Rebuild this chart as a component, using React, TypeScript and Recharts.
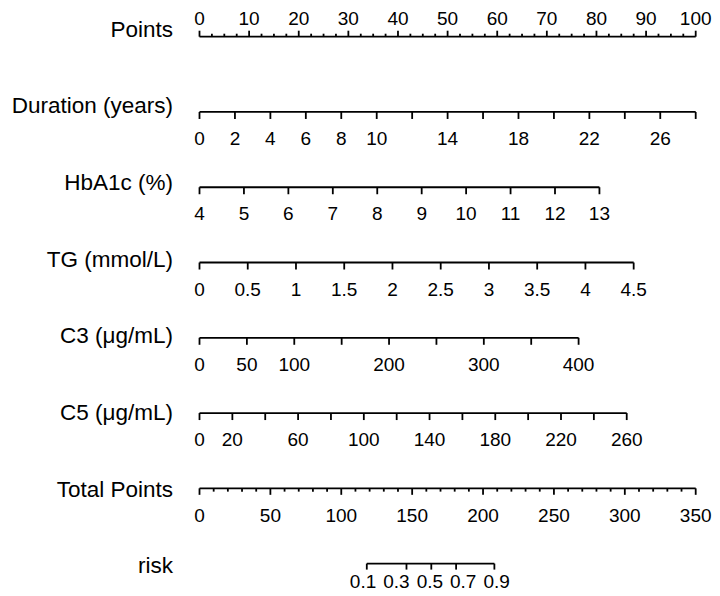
import { ScatterChart, Scatter, XAxis, YAxis } from "recharts";

// nomogram rows, top to bottom
const rowTitles = [
  "Points",
  "Duration (years)",
  "HbA1c (%)",
  "TG (mmol/L)",
  "C3 (μg/mL)",
  "C5 (μg/mL)",
  "Total Points",
  "risk",
];

// Points scale (0-100)
const pointsLabels = [0, 10, 20, 30, 40, 50, 60, 70, 80, 90, 100];
const pointsMinorStep = 2.5;

// predictors: ticks, labelled ticks, range and points at the max value
const durationTicks = [0, 2, 4, 6, 8, 10, 12, 14, 16, 18, 20, 22, 24, 26, 28];
const durationLabels = [0, 2, 4, 6, 8, 10, 14, 18, 22, 26];
const hba1cTicks = [4, 5, 6, 7, 8, 9, 10, 11, 12, 13];
const hba1cLabels = [4, 5, 6, 7, 8, 9, 10, 11, 12, 13];
const tgTicks = [0, 0.5, 1, 1.5, 2, 2.5, 3, 3.5, 4, 4.5];
const tgLabels = [0, 0.5, 1, 1.5, 2, 2.5, 3, 3.5, 4, 4.5];
const c3Ticks = [0, 50, 100, 150, 200, 250, 300, 350, 400];
const c3Labels = [0, 50, 100, 200, 300, 400];
const c5Ticks = [0, 20, 40, 60, 80, 100, 120, 140, 160, 180, 200, 220, 240, 260];
const c5Labels = [0, 20, 60, 100, 140, 180, 220, 260];

const varMin = [0, 4, 0, 0, 0];
const varMax = [28, 13, 4.5, 400, 260];
const varMaxPoints = [100, 80.6, 87.5, 76.4, 86.1];

// Total points scale and risk
const totalMax = 350;
const totalLabels = [0, 50, 100, 150, 200, 250, 300, 350];
const totalMinorStep = 10;
const riskValues = [0.1, 0.3, 0.5, 0.7, 0.9];
const riskTotalPoints = [118, 146, 163.5, 181, 208];

const FONT = "'Liberation Sans', Arial, Helvetica, sans-serif";
const STROKE = 1.8;
const TICK_FONT = 19;

type TickPt = {
  x: number;
  y: number;
  label: string | null;
  len: number;
  up: boolean;
  dy: number;
  dx: number; // label shift in points units (crowded risk labels are spread out)
};

function steps(max: number, step: number) {
  const out: number[] = [];
  for (let v = 0; v <= max + 1e-9; v += step) out.push(+v.toFixed(4));
  return out;
}

const pointsRow: TickPt[] = steps(100, pointsMinorStep).map((v) => {
  const lab = pointsLabels.includes(v);
  return { x: v, y: 0, label: lab ? String(v) : null, len: lab ? 6 : 3, up: true, dy: -11.7, dx: 0 };
});

const varTicks = [durationTicks, hba1cTicks, tgTicks, c3Ticks, c5Ticks];
const varLabels = [durationLabels, hba1cLabels, tgLabels, c3Labels, c5Labels];

const varRows: TickPt[][] = varTicks.map((ticks, i) =>
  ticks.map((v) => ({
    x: ((v - varMin[i]) / (varMax[i] - varMin[i])) * varMaxPoints[i],
    y: i + 1,
    label: varLabels[i].includes(v) ? String(v) : null,
    len: 7,
    up: false,
    dy: 33,
    dx: 0,
  }))
);

const totalRow: TickPt[] = steps(totalMax, totalMinorStep).map((v) => {
  const lab = totalLabels.includes(v);
  return {
    x: (v / totalMax) * 100,
    y: 6,
    label: lab ? String(v) : null,
    len: lab ? 6.5 : 3.3,
    up: false,
    dy: 33.3,
    dx: 0,
  };
});

// risk labels are spread evenly so they do not overlap
const riskX = riskTotalPoints.map((t) => (t / totalMax) * 100);
const riskLabelStart = riskX[0] - 0.75;
const riskLabelEnd = riskX[riskX.length - 1] + 0.45;
const riskRow: TickPt[] = riskValues.map((r, i) => {
  const target = riskLabelStart + ((riskLabelEnd - riskLabelStart) * i) / (riskValues.length - 1);
  return { x: riskX[i], y: 7, label: String(r), len: 6, up: false, dy: 24, dx: target - riskX[i] };
});

const allRows = [pointsRow, ...varRows, totalRow, riskRow];

const PX_PER_POINT = (720 - 199.5 - 24.3) / 100;

const TickShape = (props: any) => {
  const { cx, cy, payload } = props;
  const dir = payload.up ? -1 : 1;
  return (
    <g>
      <line x1={cx} y1={cy} x2={cx} y2={cy + dir * payload.len} stroke="#000" strokeWidth={STROKE} />
      {payload.label != null && (
        <text
          x={cx + payload.dx * PX_PER_POINT}
          y={cy + payload.dy}
          textAnchor="middle"
          fontSize={TICK_FONT}
          fontFamily={FONT}
          fill="#000"
        >
          {payload.label}
        </text>
      )}
    </g>
  );
};

const TitleTick = (props: any) => {
  const { x, y, payload } = props;
  const row = payload.value as number;
  return (
    <text x={x} y={y + 1.4 * row} textAnchor="end" fontSize={22.5} fontFamily={FONT} fill="#000">
      {rowTitles[row]}
    </text>
  );
};

export default function App() {
  return (
    <div style={{ position: "absolute", left: 0, top: 0, background: "#fff" }}>
      <ScatterChart width={720} height={596} margin={{ top: 36.7, right: 24.3, bottom: 32.4, left: 0 }}>
        <XAxis type="number" dataKey="x" domain={[0, 100]} hide />
        <YAxis
          type="number"
          dataKey="y"
          domain={[0, 7]}
          reversed
          ticks={[0, 1, 2, 3, 4, 5, 6, 7]}
          interval={0}
          width={199.5}
          axisLine={false}
          tickLine={false}
          tickSize={0}
          tickMargin={26.5}
          tick={TitleTick}
        />
        {allRows.map((data, i) => (
          <Scatter
            key={i}
            data={data}
            shape={TickShape}
            line={{ stroke: "#000", strokeWidth: STROKE }}
            isAnimationActive={false}
          />
        ))}
      </ScatterChart>
    </div>
  );
}
